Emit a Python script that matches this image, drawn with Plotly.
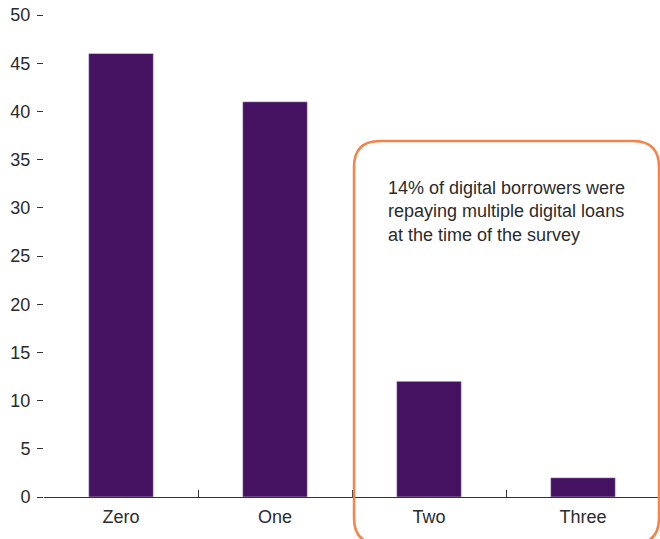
import plotly.graph_objects as go

# Number of digital loans being repaid at the time of the survey (% of digital borrowers)
loan_counts = ["Zero", "One", "Two", "Three"]
share_pct = [46, 41, 12, 2]
y_ticks = [0, 5, 10, 15, 20, 25, 30, 35, 40, 45, 50]
note_text = ("14% of digital borrowers were<br>"
             "repaying multiple digital loans<br>"
             "at the time of the survey")

FONT = "Liberation Sans Narrow, Arial Narrow, Liberation Sans, sans-serif"
BAR = "#451261"
ORANGE = "#F5844A"
TEXT = "#2b2b2b"

W, H = 660, 539
L, R, T, B = 44, 0, 15, 42
pw, ph = W - L - R, H - T - B


def px(x):
    return (x - L) / pw


def py(y):
    return (H - B - y) / ph


fig = go.Figure(go.Bar(
    x=loan_counts, y=share_pct, marker_color=BAR, width=0.42,
    hoverinfo="x+y",
))

# rounded call-out box around the multiple-loan bars (bottom runs off the page)
x0, x1, y0, y1, r = 354, 659, 141, 544, 26
path = (f"M {px(x0 + r)},{py(y1)} "
        f"Q {px(x0)},{py(y1)} {px(x0)},{py(y1 - r)} "
        f"L {px(x0)},{py(y0 + r)} "
        f"Q {px(x0)},{py(y0)} {px(x0 + r)},{py(y0)} "
        f"L {px(x1 - r)},{py(y0)} "
        f"Q {px(x1)},{py(y0)} {px(x1)},{py(y0 + r)} "
        f"L {px(x1)},{py(y1 - r)} "
        f"Q {px(x1)},{py(y1)} {px(x1 - r)},{py(y1)} Z")
fig.add_shape(type="path", path=path, xref="paper", yref="paper",
              line=dict(color=ORANGE, width=2.5))

fig.add_annotation(text=note_text, xref="paper", yref="paper",
                   x=px(386), y=py(176), xanchor="left", yanchor="top",
                   align="left", showarrow=False,
                   font=dict(family=FONT, size=18, color=TEXT))

fig.update_layout(
    width=W, height=H,
    margin=dict(l=L, r=R, t=T, b=B),
    plot_bgcolor="white", paper_bgcolor="white",
    showlegend=False,
    font=dict(family=FONT, size=18, color=TEXT),
    bargap=0.58,
)
fig.update_xaxes(
    type="category", range=[-0.5, 3.5],
    showline=True, linecolor="#333", linewidth=1.2,
    ticks="inside", tickson="boundaries", ticklen=7, tickcolor="#333",
    tickwidth=1.2, showgrid=False, zeroline=False, ticklabelstandoff=3,
    tickfont=dict(family=FONT, size=18, color=TEXT),
)
fig.update_yaxes(
    range=[0, 50], tickvals=y_ticks, ticks="outside", ticklen=6,
    tickcolor="#333", tickwidth=1.2, showline=False, showgrid=False,
    zeroline=False, ticklabelstandoff=3,
    tickfont=dict(family=FONT, size=18, color=TEXT),
)

fig.write_html("out.html")
